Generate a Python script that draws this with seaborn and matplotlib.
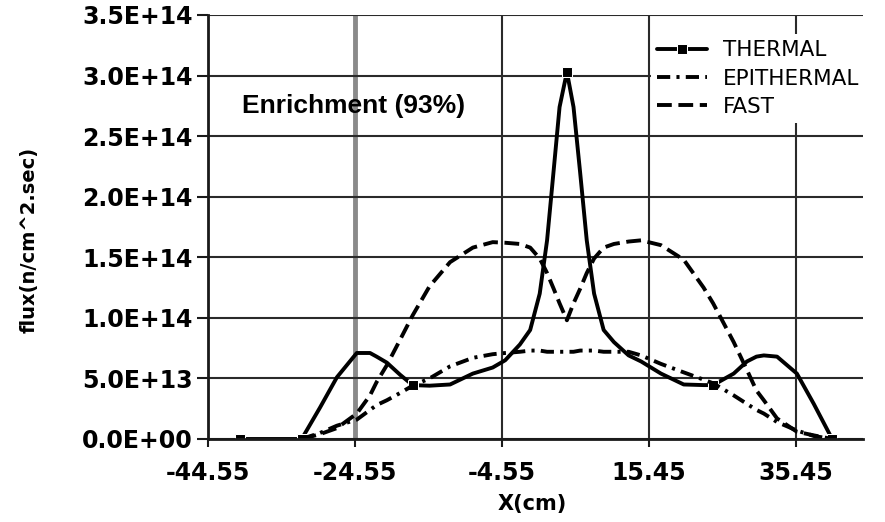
import matplotlib
matplotlib.use("Agg")
import numpy as np
import pandas as pd
import matplotlib.pyplot as plt
import seaborn as sns

# Position along the core (cm)
x_cm = [-40.2, -31.8, -29.3, -27.0, -24.3, -22.5, -21.6, -20.2, -18.4, -16.7,
        -14.4, -11.6, -8.5, -5.8, -4.1, -2.1, -0.7, 0.6, 1.6, 2.5,
        3.3, 4.3, 5.2, 6.1, 7.0, 8.0, 9.3, 10.7, 12.7, 14.4,
        17.1, 20.2, 22.9, 24.2, 27.0, 28.8, 30.1, 31.1, 32.9, 35.6,
        37.9, 40.4]

# Flux values in units of 1e13 n/cm^2.sec
thermal = [0.0, 0.0, 2.6, 5.1, 7.1, 7.1, 6.8, 6.3, 5.3, 4.45,
           4.4, 4.5, 5.4, 5.9, 6.5, 7.8, 9.0, 12.0, 16.4, 22.2,
           27.4, 30.3, 27.4, 22.0, 16.4, 12.0, 9.0, 8.0, 6.9, 6.4,
           5.4, 4.5, 4.45, 4.45, 5.4, 6.4, 6.8, 6.9, 6.8, 5.4,
           2.9, 0.0]
epithermal = [np.nan, 0.0, 0.5, 1.1, 1.6, 2.4, 2.8, 3.2, 3.8, 4.4,
              5.0, 6.0, 6.7, 7.0, 7.1, 7.2, 7.3, 7.3, 7.2, 7.2,
              7.2, 7.2, 7.2, 7.3, 7.3, 7.3, 7.2, 7.2, 7.2, 6.9,
              6.2, 5.5, 4.9, 4.6, 3.6, 2.9, 2.4, 2.1, 1.4, 0.7,
              0.25, 0.0]
fast = [np.nan, 0.0, 0.4, 0.9, 2.1, 3.6, 4.7, 6.1, 8.2, 10.2,
        12.6, 14.6, 15.8, 16.25, 16.2, 16.1, 15.8, 14.9, 13.7, 12.4,
        11.2, 9.8, 11.2, 12.4, 13.7, 14.9, 15.8, 16.1, 16.3, 16.4,
        16.0, 14.8, 12.5, 11.2, 8.0, 5.7, 4.0, 3.2, 1.7, 0.6,
        0.3, 0.0]

x_ticks = [-44.55, -24.55, -4.55, 15.45, 35.45]
x_tick_labels = ["-44.55", "-24.55", "-4.55", "15.45", "35.45"]
y_ticks = [0, 5e13, 1e14, 1.5e14, 2e14, 2.5e14, 3e14, 3.5e14]
y_tick_labels = ["0.0E+00", "5.0E+13", "1.0E+14", "1.5E+14",
                 "2.0E+14", "2.5E+14", "3.0E+14", "3.5E+14"]

scale = 1e13
df = pd.DataFrame({
    "x": x_cm,
    "THERMAL": np.array(thermal) * scale,
    "EPITHERMAL": np.array(epithermal) * scale,
    "FAST": np.array(fast) * scale,
})

sns.set_style("white")
plt.rcParams["font.family"] = ["DejaVu Sans"]
plt.rcParams.update({"text.color": "black", "axes.labelcolor": "black",
                     "xtick.color": "black", "ytick.color": "black"})

W, H = 885, 522
fig = plt.figure(figsize=(W / 100, H / 100), dpi=100)
ax = fig.add_axes([208 / W, 1 - 439 / H, (863 - 208) / W, (439 - 15) / H])

lw = 2.8
sns.lineplot(data=df, x="x", y="THERMAL", ax=ax, color="black", lw=lw,
             estimator=None, label="THERMAL", marker="s", markersize=7,
             markevery=[0, 1, 9, 21, 33, 41])
sns.lineplot(data=df.dropna(), x="x", y="EPITHERMAL", ax=ax, color="black",
             lw=lw, estimator=None, label="EPITHERMAL",
             linestyle=(0, (3.4, 1.6, 0.8, 1.6)))
sns.lineplot(data=df.dropna(), x="x", y="FAST", ax=ax, color="black", lw=lw,
             estimator=None, label="FAST", linestyle=(0, (3.8, 1.7)))

ax.set_xlim(-44.55, 44.6)
ax.set_ylim(0, 3.5e14)
ax.set_xticks(x_ticks)
ax.set_xticklabels(x_tick_labels, fontsize=17, fontweight="bold")
ax.set_yticks(y_ticks)
ax.set_yticklabels(y_tick_labels, fontsize=17, fontweight="bold")

ax.grid(True, color="#2a2a2a", lw=1.5)
xgl = ax.xaxis.get_gridlines()
xgl[1].set_color("#8a8a8a")
xgl[1].set_linewidth(3.5)

for side in ("top", "right"):
    ax.spines[side].set_visible(False)
for side in ("left", "bottom"):
    ax.spines[side].set_color("#1a1a1a")
    ax.spines[side].set_linewidth(2)

ax.tick_params(axis="y", left=True, length=8, width=1.5, pad=3,
               direction="out", color="#1a1a1a")
ax.tick_params(axis="x", bottom=True, length=6, width=1.5, pad=10,
               direction="out", color="#1a1a1a")

ax.set_ylabel("flux(n/cm^2.sec)", fontsize=14, fontweight="bold")
ax.yaxis.set_label_coords(-0.258, 0.47)
ax.set_xlabel("X(cm)", fontsize=15, fontweight="bold")
ax.xaxis.set_label_coords(0.495, -0.13)

ax.text(0.052, 0.785, "Enrichment (93%)", transform=ax.transAxes,
        ha="left", va="center", fontsize=19, fontweight="bold",
        color="black", family=["Liberation Sans", "DejaVu Sans"])

leg = ax.legend(loc="upper left", bbox_to_anchor=(651 / W, 1 - 34 / H),
                bbox_transform=fig.transFigure, frameon=True, fancybox=False,
                edgecolor="none", facecolor="white", framealpha=1,
                fontsize=15.5, handlelength=2.3, handletextpad=0.75,
                labelspacing=0.38, borderpad=0.3, borderaxespad=0)

fig.savefig("out.png", dpi=100)
